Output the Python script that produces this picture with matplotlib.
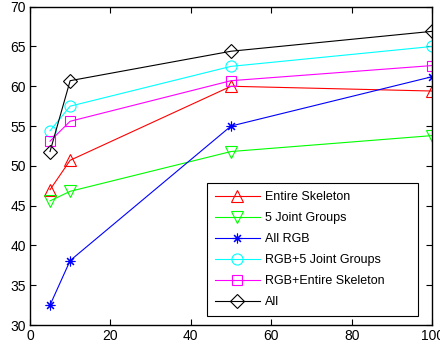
import matplotlib
matplotlib.use("Agg")
import matplotlib.pyplot as plt

plt.rcParams.update({
    "font.family": ["Liberation Sans", "DejaVu Sans"],
    "font.size": 10,
    "xtick.direction": "in",
    "ytick.direction": "in",
    "xtick.top": True,
    "ytick.right": True,
})

# ── DATA ───────────────────────────────────────────────────────────────────────
x_vals = [5, 10, 50, 100]

entire_skeleton = [47.0, 50.7, 60.0, 59.4]
joint_groups    = [45.6, 46.8, 51.8, 53.8]
all_rgb         = [32.5, 38.1, 55.0, 61.2]
rgb_joint       = [54.4, 57.5, 62.5, 65.0]
rgb_skeleton    = [53.1, 55.6, 60.7, 62.6]
all_combined    = [51.8, 60.7, 64.4, 66.9]

labels  = ["Entire Skeleton", "5 Joint Groups", "All RGB",
           "RGB+5 Joint Groups", "RGB+Entire Skeleton", "All"]
series  = [entire_skeleton, joint_groups, all_rgb, rgb_joint, rgb_skeleton, all_combined]
colors  = ["#ff0000", "#00ff00", "#0000ff", "#00ffff", "#ff00ff", "#000000"]
markers = ["^", "v", (8, 2, 0), "o", "s", "D"]
msizes  = [9, 9, 7, 8, 7, 7]

x_ticks = [0, 20, 40, 60, 80, 100]
y_ticks = [30, 35, 40, 45, 50, 55, 60, 65, 70]

# ── PLOT ───────────────────────────────────────────────────────────────────────
fig = plt.figure(figsize=(4.4, 3.51), dpi=100)
ax = fig.add_axes([0.068, 0.074, 0.914, 0.907])

for ys, lab, c, m, ms in zip(series, labels, colors, markers, msizes):
    ax.plot(x_vals, ys, color=c, marker=m, markersize=ms, linewidth=0.8,
            markerfacecolor="none", markeredgecolor=c, markeredgewidth=0.8,
            label=lab)

ax.set_xlim(0, 100)
ax.set_ylim(30, 70)
ax.set_xticks(x_ticks)
ax.set_yticks(y_ticks)
ax.tick_params(length=4, width=0.8, labelsize=10, pad=3)
for sp in ax.spines.values():
    sp.set_linewidth(1.0)

# legend box stretched to the MATLAB-style width (extra room on the right)
leg = ax.legend(loc="lower left", bbox_to_anchor=(0.44, 0.028, 0.525, 0.4),
                mode="expand", fontsize=9, handlelength=3.6, handletextpad=0.4,
                fancybox=False, framealpha=1, edgecolor="black",
                borderpad=0.65, labelspacing=0.72, borderaxespad=0)
leg.get_frame().set_linewidth(0.8)

fig.savefig("out.png", dpi=100)
